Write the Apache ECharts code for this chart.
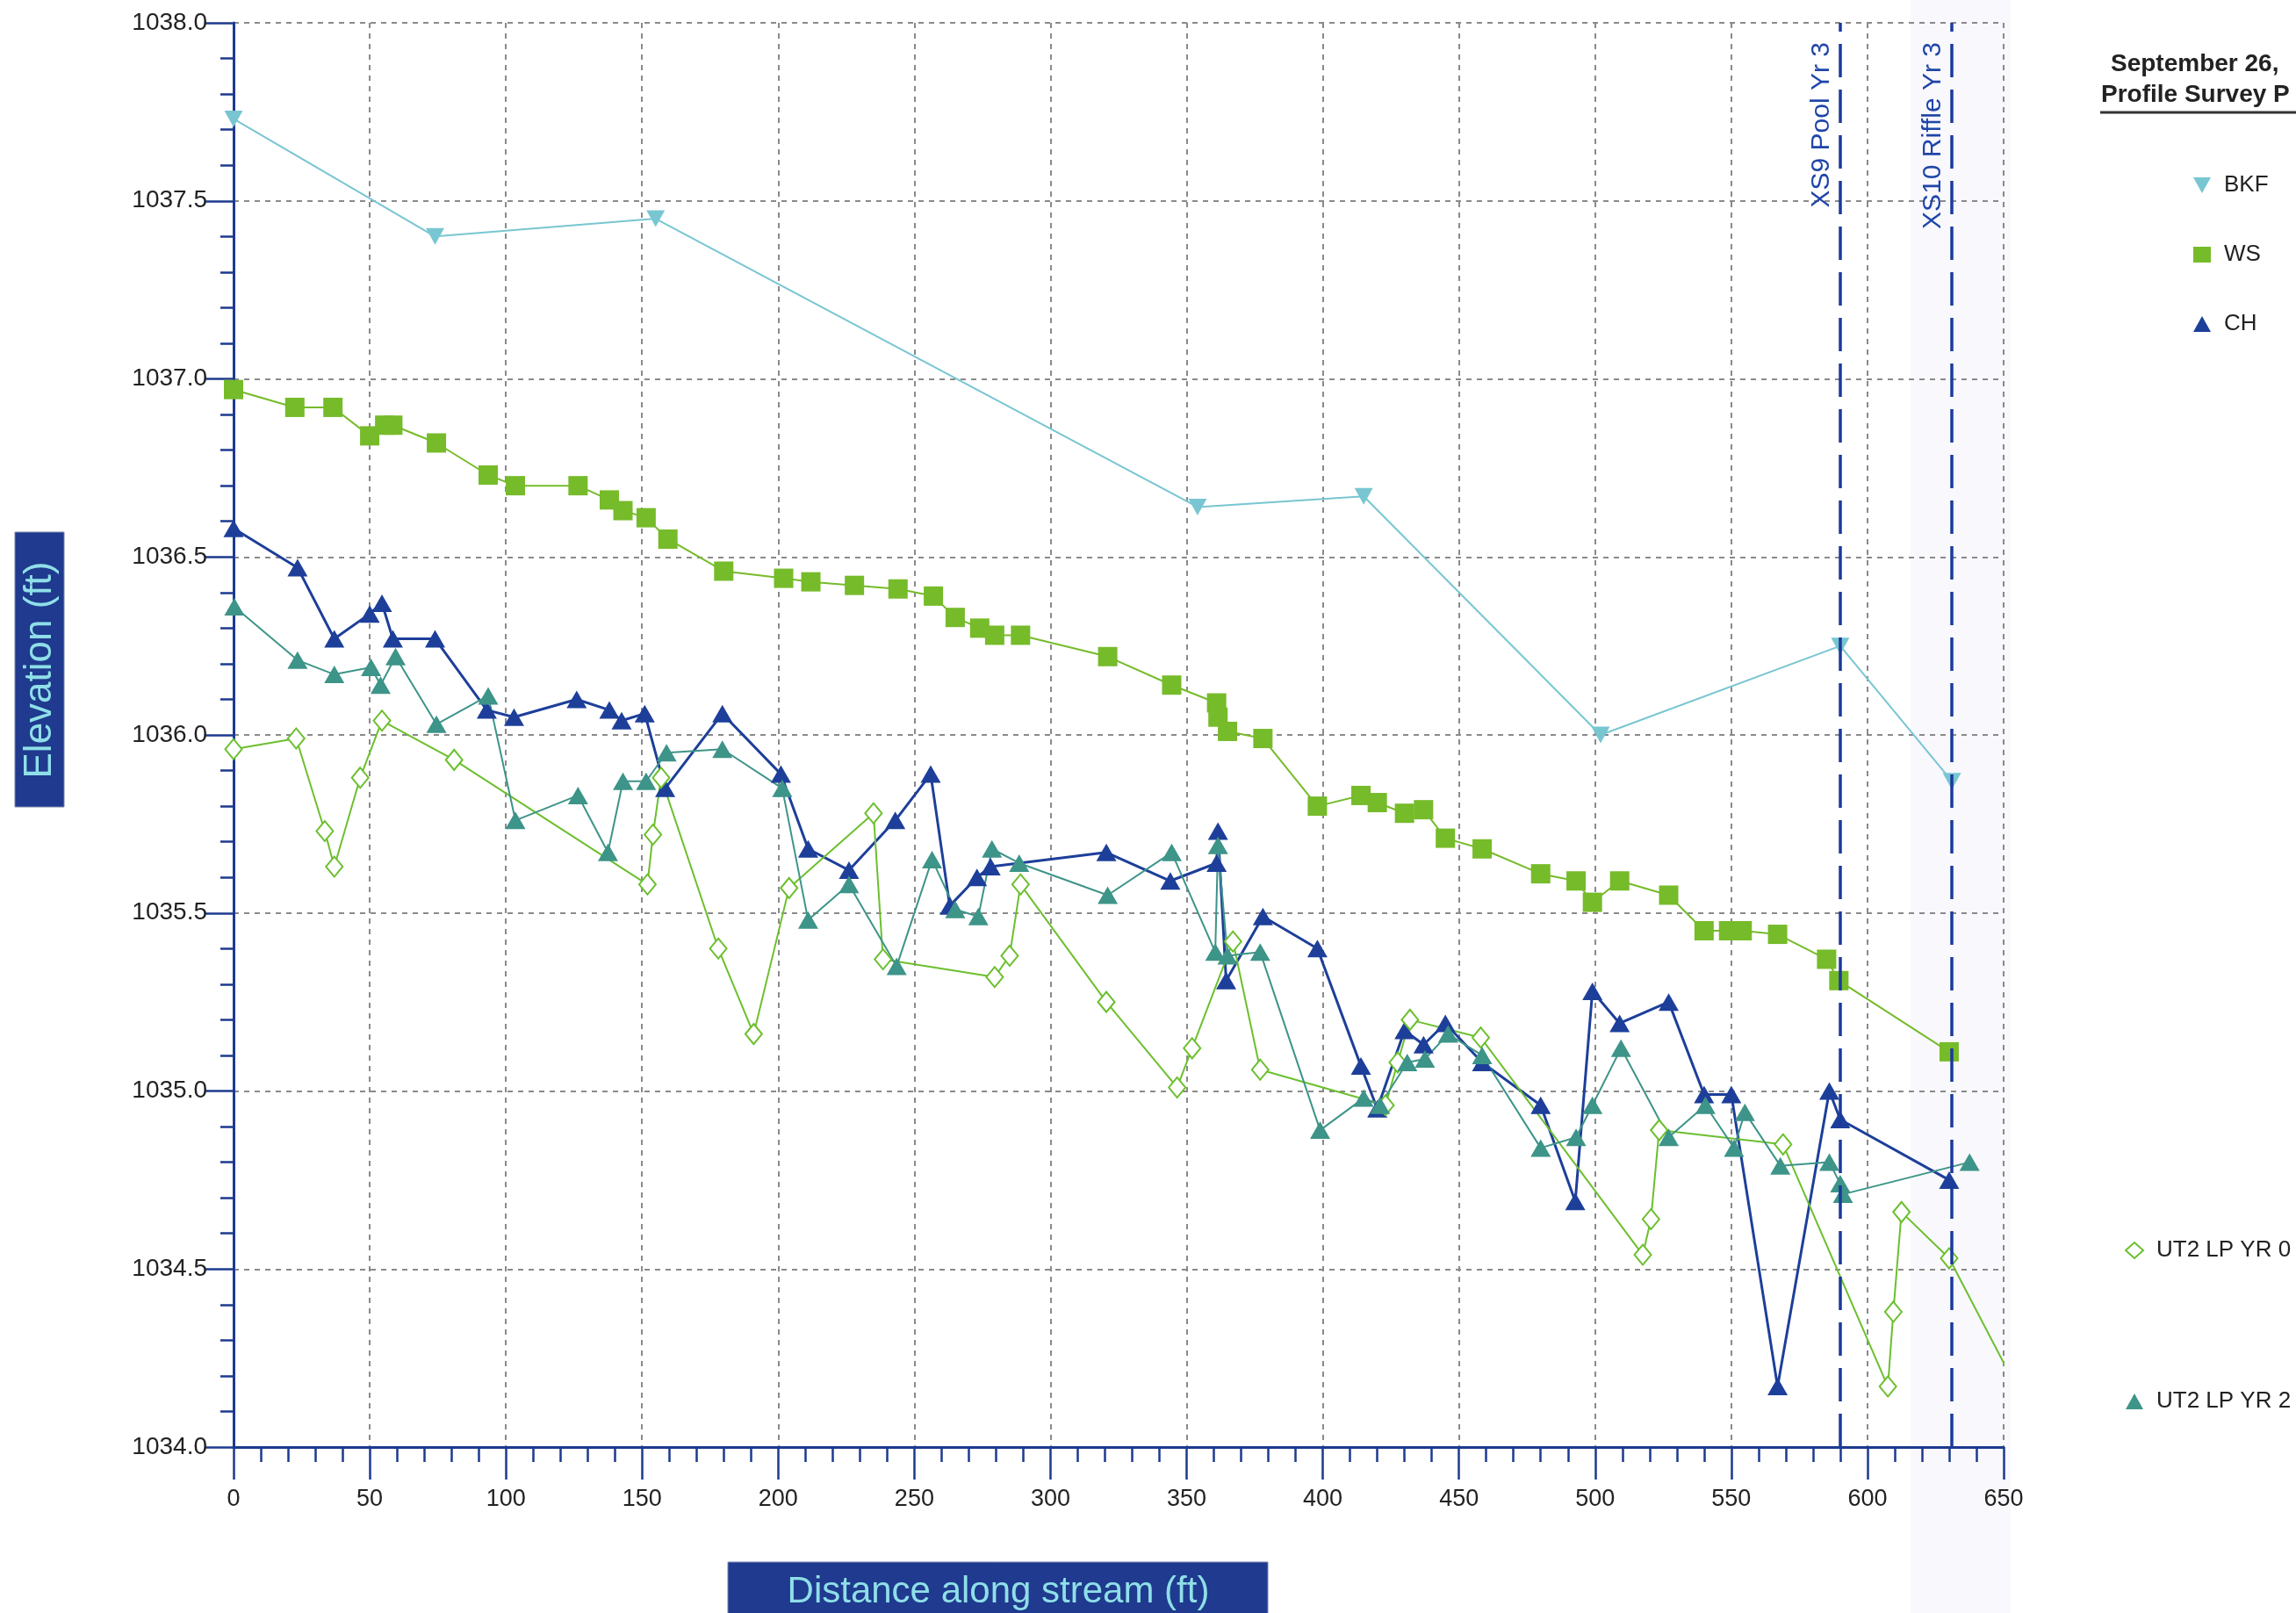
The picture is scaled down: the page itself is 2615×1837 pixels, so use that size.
<!DOCTYPE html>
<html>
<head>
<meta charset="utf-8">
<script src="https://cdn.jsdelivr.net/npm/echarts@6.0.0/dist/echarts.min.js"></script>
<style>
  html, body { margin: 0; padding: 0; background: #ffffff; }
  #chart { width: 2615px; height: 1837px; }
</style>
</head>
<body>
<div id="chart"></div>
<script>
// Longitudinal profile survey: distance along stream (ft) vs elevation (ft)

// Bankfull (BKF)
const bkfDist = [0, 74, 155, 354, 415, 502, 590, 631];
const bkfElev = [1037.73, 1037.40, 1037.45, 1036.64, 1036.67, 1036.00, 1036.25, 1035.87];

// Water surface (WS)
const wsDist = [0, 22.5, 36.5, 50, 55.5, 58.5, 74.5, 93.5, 103.5, 126.5, 138, 143, 151.5, 159.5,
  180, 202, 212, 228, 244, 257, 265, 274, 279.5, 289, 321, 344.5, 361, 361.5, 365, 378, 398,
  414, 420, 430, 437, 445, 458.5, 480, 493, 499, 509, 527, 540, 549, 554, 567, 585, 589.5, 630];
const wsElev = [1036.97, 1036.92, 1036.92, 1036.84, 1036.87, 1036.87, 1036.82, 1036.73, 1036.70,
  1036.70, 1036.66, 1036.63, 1036.61, 1036.55, 1036.46, 1036.44, 1036.43, 1036.42, 1036.41,
  1036.39, 1036.33, 1036.30, 1036.28, 1036.28, 1036.22, 1036.14, 1036.09, 1036.05, 1036.01,
  1035.99, 1035.80, 1035.83, 1035.81, 1035.78, 1035.79, 1035.71, 1035.68, 1035.61, 1035.59,
  1035.53, 1035.59, 1035.55, 1035.45, 1035.45, 1035.45, 1035.44, 1035.37, 1035.31, 1035.11];

// Channel thalweg (CH)
const chDist = [0, 23.5, 37, 50, 54.5, 58.5, 74, 93, 103, 126, 138, 142.5, 151, 158.5, 179.5,
  201, 211, 226, 243, 256, 263, 273, 278, 320.5, 344, 361, 361.5, 364.5, 378, 398, 414, 420,
  430, 437, 445, 458.5, 480, 492.7, 499, 509, 527, 540, 550, 567, 586, 590, 630];
const chElev = [1036.58, 1036.47, 1036.27, 1036.34, 1036.37, 1036.27, 1036.27, 1036.07, 1036.05,
  1036.10, 1036.07, 1036.04, 1036.06, 1035.85, 1036.06, 1035.89, 1035.68, 1035.62, 1035.76,
  1035.89, 1035.52, 1035.60, 1035.63, 1035.67, 1035.59, 1035.64, 1035.73, 1035.31, 1035.49,
  1035.40, 1035.07, 1034.95, 1035.17, 1035.13, 1035.19, 1035.08, 1034.96, 1034.69, 1035.28,
  1035.19, 1035.25, 1034.99, 1034.99, 1034.17, 1035.00, 1034.92, 1034.75];

// UT2 LP YR 0 (as-built)
const yr0Dist = [0, 23, 33.5, 37, 46.5, 54.5, 81, 152, 154, 157, 178, 191, 204, 235, 238.5,
  279.5, 285, 289, 320.5, 346.5, 352, 367, 377, 423, 427.5, 432, 458, 517.5, 520.5, 523.5,
  569, 607.5, 609.5, 612.5, 630, 660];
const yr0Elev = [1035.96, 1035.99, 1035.73, 1035.63, 1035.88, 1036.04, 1035.93, 1035.58, 1035.72,
  1035.88, 1035.40, 1035.16, 1035.57, 1035.78, 1035.37, 1035.32, 1035.38, 1035.58, 1035.25,
  1035.01, 1035.12, 1035.42, 1035.06, 1034.96, 1035.08, 1035.20, 1035.15, 1034.54, 1034.64,
  1034.89, 1034.85, 1034.17, 1034.38, 1034.66, 1034.53, 1034.09];

// UT2 LP YR 2
const yr2Dist = [0.3, 23.5, 37, 50.5, 54, 59.5, 74.5, 93.5, 103.5, 126.5, 137.5, 143, 151.5, 159,
  179.5, 201.5, 211, 226, 243.5, 256.5, 265, 273.5, 278.5, 288.5, 321, 344.5, 360.5, 361.5,
  365, 377, 399, 415, 421, 431, 437.5, 446, 458.5, 480, 493, 499, 509.5, 527, 540.5, 551,
  555, 568, 586, 590, 591, 637.5];
const yr2Elev = [1036.36, 1036.21, 1036.17, 1036.19, 1036.14, 1036.22, 1036.03, 1036.11, 1035.76,
  1035.83, 1035.67, 1035.87, 1035.87, 1035.95, 1035.96, 1035.85, 1035.48, 1035.58, 1035.35,
  1035.65, 1035.51, 1035.49, 1035.68, 1035.64, 1035.55, 1035.67, 1035.39, 1035.69, 1035.38,
  1035.39, 1034.89, 1034.98, 1034.96, 1035.08, 1035.09, 1035.16, 1035.10, 1034.84, 1034.87,
  1034.96, 1035.12, 1034.87, 1034.96, 1034.84, 1034.94, 1034.79, 1034.80, 1034.74, 1034.71,
  1034.80];

// Cross-section stations
const xsLabels = ['XS9 Pool Yr 3', 'XS10 Riffle Yr 3'];
const xsDist = [590, 631];

// Axis ranges
const distMin = 0, distMax = 650, distStep = 50;
const elevMin = 1034, elevMax = 1038, elevStep = 0.5;

const pairs = (xs, ys) => xs.map((x, i) => [x, ys[i]]);

const FONT = "'Liberation Sans', Arial, sans-serif";
const AXIS_BLUE = '#1c3a8e';
const C_BKF = '#78c6d2';
const C_WS = '#76bb2a';
const C_CH = '#1d3f9a';
const C_YR0 = '#6cbf2e';
const C_YR2 = '#3d9488';
const DOWN_TRI = 'path://M0,0L20,0L10,18Z';

const chart = echarts.init(document.getElementById('chart'), null, { renderer: 'canvas' });

chart.setOption({
  animation: false,
  backgroundColor: '#ffffff',
  grid: { left: 266, top: 26, width: 2016, height: 1622, containLabel: false },
  xAxis: {
    type: 'value', min: distMin, max: distMax, interval: distStep,
    axisLine: { show: true, onZero: false, lineStyle: { color: AXIS_BLUE, width: 3 } },
    axisTick: { show: true, inside: false, length: 37, lineStyle: { color: AXIS_BLUE, width: 2.5 } },
    minorTick: { show: true, splitNumber: 5, length: 17, lineStyle: { color: AXIS_BLUE, width: 2.5 } },
    axisLabel: { margin: 46, color: '#222', fontSize: 27, fontFamily: FONT },
    splitLine: { show: true, lineStyle: { color: '#8a8a8a', width: 2, type: [6, 6] } }
  },
  yAxis: {
    type: 'value', min: elevMin, max: elevMax, interval: elevStep,
    axisLine: { show: true, onZero: false, lineStyle: { color: AXIS_BLUE, width: 3 } },
    axisTick: { show: true, inside: false, length: 32, lineStyle: { color: AXIS_BLUE, width: 2.5 } },
    minorTick: { show: true, splitNumber: 5, length: 15, lineStyle: { color: AXIS_BLUE, width: 2.5 } },
    axisLabel: { margin: 30, color: '#222', fontSize: 28, fontFamily: FONT,
      formatter: v => v.toFixed(1) },
    splitLine: { show: true, lineStyle: { color: '#8a8a8a', width: 2, type: [6, 6] } }
  },
  legend: [
    {
      orient: 'vertical', left: 2493, top: 193, itemWidth: 20, itemHeight: 18, itemGap: 53,
      textStyle: { fontSize: 26, color: '#222', fontFamily: FONT, padding: [0, 0, 0, 10] },
      data: [
        { name: 'BKF', icon: DOWN_TRI },
        { name: 'WS', icon: 'rect' },
        { name: 'CH', icon: 'triangle' }
      ]
    },
    {
      orient: 'vertical', left: 2415, top: 1406, itemWidth: 20, itemHeight: 18, itemGap: 146,
      textStyle: { fontSize: 26, color: '#222', fontFamily: FONT, padding: [0, 0, 0, 10] },
      data: [
        { name: 'UT2 LP YR 0', icon: 'diamond',
          itemStyle: { color: '#ffffff', borderColor: C_YR0, borderWidth: 2 } },
        { name: 'UT2 LP YR 2', icon: 'triangle' }
      ]
    }
  ],
  graphic: [
    // faint band in the paper on the right side of the plot
    { type: 'rect', z: -10, shape: { x: 2176, y: 0, width: 114, height: 1837 },
      style: { fill: '#f8f8fd' } },
    // vertical axis title
    { type: 'rect', shape: { x: 17, y: 606, width: 56, height: 313 },
      style: { fill: '#1f3a8e', stroke: '#7b86ad', lineWidth: 1 } },
    { type: 'text', x: 46, y: 763, rotation: Math.PI / 2,
      style: { text: 'Elevation (ft)', fill: '#8fdfe8', font: '44px ' + FONT,
        align: 'center', verticalAlign: 'middle' } },
    // horizontal axis title
    { type: 'rect', shape: { x: 829, y: 1779, width: 615, height: 70 },
      style: { fill: '#1f3a8e', stroke: '#7b86ad', lineWidth: 1 } },
    { type: 'text', x: 1137, y: 1813,
      style: { text: 'Distance along stream (ft)', fill: '#8fdfe8', font: '42px ' + FONT,
        align: 'center', verticalAlign: 'middle' } },
    // title block
    { type: 'text', x: 2404, y: 73,
      style: { text: 'September 26,', fill: '#222', font: 'bold 28px ' + FONT,
        align: 'left', verticalAlign: 'middle' } },
    { type: 'text', x: 2393, y: 108,
      style: { text: 'Profile Survey P', fill: '#222', font: 'bold 28px ' + FONT,
        align: 'left', verticalAlign: 'middle' } },
    { type: 'line', shape: { x1: 2392, y1: 128, x2: 2615, y2: 128 },
      style: { stroke: '#333', lineWidth: 3 } }
  ],
  series: [
    {
      name: 'BKF', type: 'line', data: pairs(bkfDist, bkfElev),
      symbol: DOWN_TRI, symbolSize: [21, 19], color: C_BKF,
      lineStyle: { color: C_BKF, width: 2 }, itemStyle: { color: C_BKF }
    },
    {
      name: 'WS', type: 'line', data: pairs(wsDist, wsElev),
      symbol: 'rect', symbolSize: 22, color: C_WS,
      lineStyle: { color: C_WS, width: 2 }, itemStyle: { color: C_WS }
    },
    {
      name: 'CH', type: 'line', data: pairs(chDist, chElev),
      symbol: 'triangle', symbolSize: [23, 20], color: C_CH,
      lineStyle: { color: C_CH, width: 3 }, itemStyle: { color: C_CH }
    },
    {
      name: 'UT2 LP YR 0', type: 'line', data: pairs(yr0Dist, yr0Elev),
      symbol: 'emptyDiamond', symbolSize: [19, 23], color: C_YR0, clip: true,
      lineStyle: { color: C_YR0, width: 2 }, itemStyle: { color: C_YR0, borderWidth: 2 }
    },
    {
      name: 'UT2 LP YR 2', type: 'line', data: pairs(yr2Dist, yr2Elev),
      symbol: 'triangle', symbolSize: [23, 20], color: C_YR2,
      lineStyle: { color: C_YR2, width: 2 }, itemStyle: { color: C_YR2 },
      markLine: {
        silent: true, symbol: 'none', animation: false,
        lineStyle: { color: '#1a3a9c', width: 3.5, type: [38, 14] },
        label: {
          show: true, position: 'insideEndTop', color: '#1f45a8', fontSize: 30,
          fontFamily: FONT, distance: [22, 6], formatter: p => p.name
        },
        data: xsDist.map((d, i) => ({ name: xsLabels[i], xAxis: d }))
      }
    }
  ]
});
</script>
</body>
</html>
